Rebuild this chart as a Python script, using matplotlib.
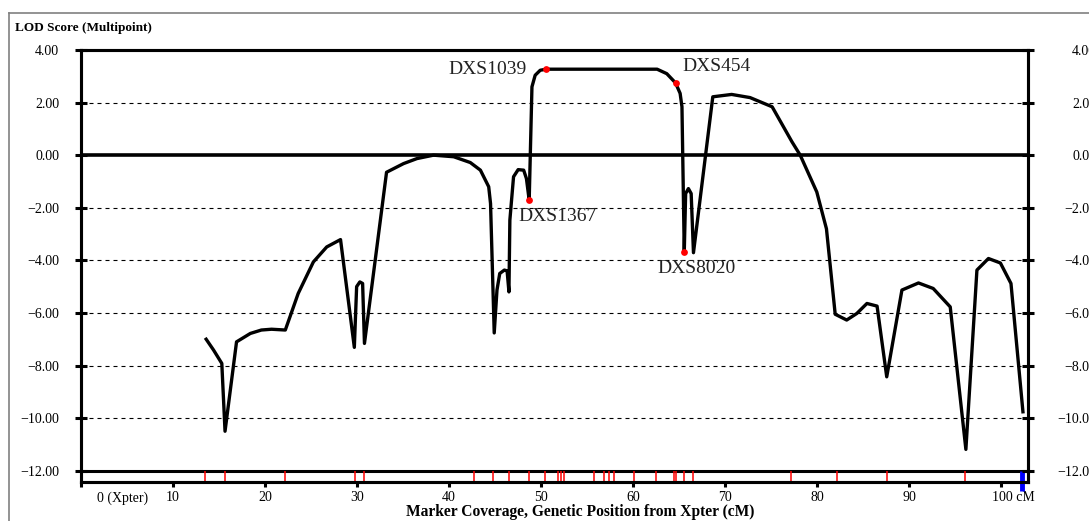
import matplotlib
matplotlib.use('Agg')
import matplotlib.pyplot as plt
import matplotlib.transforms as mtransforms
from matplotlib.lines import Line2D

plt.rcParams['font.family'] = ['Liberation Serif', 'DejaVu Serif']

# multipoint LOD curve (cM, LOD)
position = [13.6, 14.4, 15.3, 15.65, 16.9, 18.4, 19.6, 20.7, 22.2, 23.6,
            25.25, 26.7, 28.2, 29.7, 29.95, 30.3, 30.6, 30.8, 33.2, 35.05,
            36.5, 38.3, 40.5, 42.3, 43.4, 44.3, 44.5, 44.9, 45.2, 45.5,
            46.0, 46.3, 46.5, 46.6, 47.0, 47.5, 48.1, 48.4, 48.7, 49.0,
            49.35, 49.9, 50.55, 58.6, 62.6, 63.65, 64.6, 65.1, 65.3, 65.55,
            65.7, 66.0, 66.3, 66.55, 68.65, 70.7, 72.7, 75.1, 77.25, 78.15,
            79.95, 81.0, 81.95, 83.2, 84.3, 85.4, 86.5, 87.55, 89.2, 91.0,
            92.6, 94.45, 96.15, 97.35, 98.6, 99.9, 101.05, 102.35]
lod = [-7.0, -7.41, -7.92, -10.5, -7.1, -6.78, -6.65, -6.62, -6.65, -5.26,
       -4.06, -3.49, -3.21, -7.31, -5.0, -4.82, -4.88, -7.16, -0.65, -0.32,
       -0.13, 0.0, -0.06, -0.28, -0.57, -1.2, -1.84, -6.76, -5.13, -4.5,
       -4.37, -4.4, -5.2, -2.47, -0.82, -0.55, -0.57, -0.89, -1.71, 2.6,
       3.04, 3.23, 3.27, 3.27, 3.27, 3.1, 2.75, 2.35, 1.84, -3.68,
       -1.46, -1.27, -1.46, -3.71, 2.22, 2.31, 2.19, 1.84, 0.51, 0.0,
       -1.4, -2.8, -6.05, -6.27, -6.02, -5.64, -5.74, -8.43, -5.13, -4.86,
       -5.07, -5.77, -11.19, -4.37, -3.93, -4.1, -4.88, -9.76]

# labelled markers
marker_names = ['DXS1367', 'DXS1039', 'DXS454', 'DXS8020']
marker_pos = [48.7, 50.55, 64.6, 65.55]
marker_lod = [-1.71, 3.27, 2.75, -3.68]

# marker coverage along the bottom strip
coverage = [13.5, 15.65, 22.2, 29.8, 30.8, 42.75, 44.8, 46.55, 48.7, 50.4,
            51.8, 52.2, 52.5, 55.7, 56.8, 57.4, 57.9, 60.1, 62.5, 64.4,
            64.7, 65.5, 66.55, 77.1, 82.1, 87.6, 96.1]
chrom_end = 102.3

xticks = [0, 10, 20, 30, 40, 50, 60, 70, 80, 90, 100]
xtick_labels = ['0 (Xpter)', '10', '20', '30', '40', '50', '60', '70', '80', '90', '100 cM']
yticks = [4, 2, 0, -2, -4, -6, -8, -10, -12]

fig = plt.figure(figsize=(10.89, 5.21), dpi=100)
ax = fig.add_axes([81 / 1089, 1 - 482 / 521, 947 / 1089, 432 / 521])
ax.set_xlim(0, 102.9)
ax.set_ylim(-12.43, 4)

for y in [2, -2, -4, -6, -8, -10]:
    ax.axhline(y, color='black', lw=0.8, ls=(0, (3.6, 3.6)), zorder=1)
ax.axhline(0, color='black', lw=2.6, zorder=2)
ax.axhline(-12, color='black', lw=2.2, zorder=2)

ax.plot(position, lod, color='black', lw=2.4, zorder=3, solid_joinstyle='round')
ax.scatter(marker_pos, marker_lod, s=24, color='red', zorder=4, linewidths=0)

offsets = {'DXS1367': (-8, -12, 'left'), 'DXS1039': (-14, 0, 'right'),
           'DXS454': (5, 12, 'left'), 'DXS8020': (-19, -12, 'left')}
for name, x, y in zip(marker_names, marker_pos, marker_lod):
    dx, dy, ha = offsets[name]
    ax.annotate(name, (x, y), xytext=(dx, dy), textcoords='offset points',
                ha=ha, va='center', fontsize=14, color='#222222')

ax.vlines(coverage, -12.43, -12, color='red', lw=1.1, zorder=2)
ax.vlines([chrom_end], -12.78, -12, color='#0000ff', lw=3.5, zorder=5, clip_on=False)

for s in ax.spines.values():
    s.set_linewidth(2.2)

ax.set_xticks(xticks)
ax.set_xticklabels(xtick_labels)
ax.tick_params(axis='x', direction='out', length=3.6, width=2.2, pad=3, labelsize=10)
ax.set_yticks(yticks)
ax.set_yticklabels([f'{v:.2f}'.replace('-', '\u2212') for v in yticks])
ax.tick_params(axis='y', direction='inout', length=8.6, width=2.2, pad=11.5, labelsize=10)

lbls = ax.get_xticklabels()
lbls[0].set_ha('left')
lbls[0].set_transform(lbls[0].get_transform() + mtransforms.ScaledTranslation(0.16, 0, fig.dpi_scale_trans))
lbls[-1].set_ha('left')
lbls[-1].set_transform(lbls[-1].get_transform() + mtransforms.ScaledTranslation(-0.09, 0, fig.dpi_scale_trans))

ax2 = ax.twinx()
ax2.set_ylim(ax.get_ylim())
ax2.set_yticks(yticks)
ax2.set_yticklabels([f'{v:.2f}'.replace('-', '\u2212') for v in yticks])
ax2.tick_params(axis='y', direction='inout', length=8.6, width=2.2, pad=44.7, labelsize=10)
for t in ax2.get_yticklabels():
    t.set_ha('right')
for s in ax2.spines.values():
    s.set_linewidth(2.2)

fig.text(15 / 1089, 1 - 28 / 521, 'LOD Score (Multipoint)', ha='left', va='center',
         fontsize=9.5, fontweight='bold')
fig.text(580 / 1089, 1 - 512 / 521, 'Marker Coverage, Genetic Position from Xpter (cM)',
         ha='center', va='center', fontsize=11.2, fontweight='bold')

# grey frame around the chart area
fig.add_artist(Line2D([9 / 1089, 1], [1 - 13 / 521] * 2, color='#808080', lw=1.2))
fig.add_artist(Line2D([9 / 1089] * 2, [0, 1 - 13 / 521], color='#808080', lw=1.2))

fig.savefig('out.png', dpi=100)
